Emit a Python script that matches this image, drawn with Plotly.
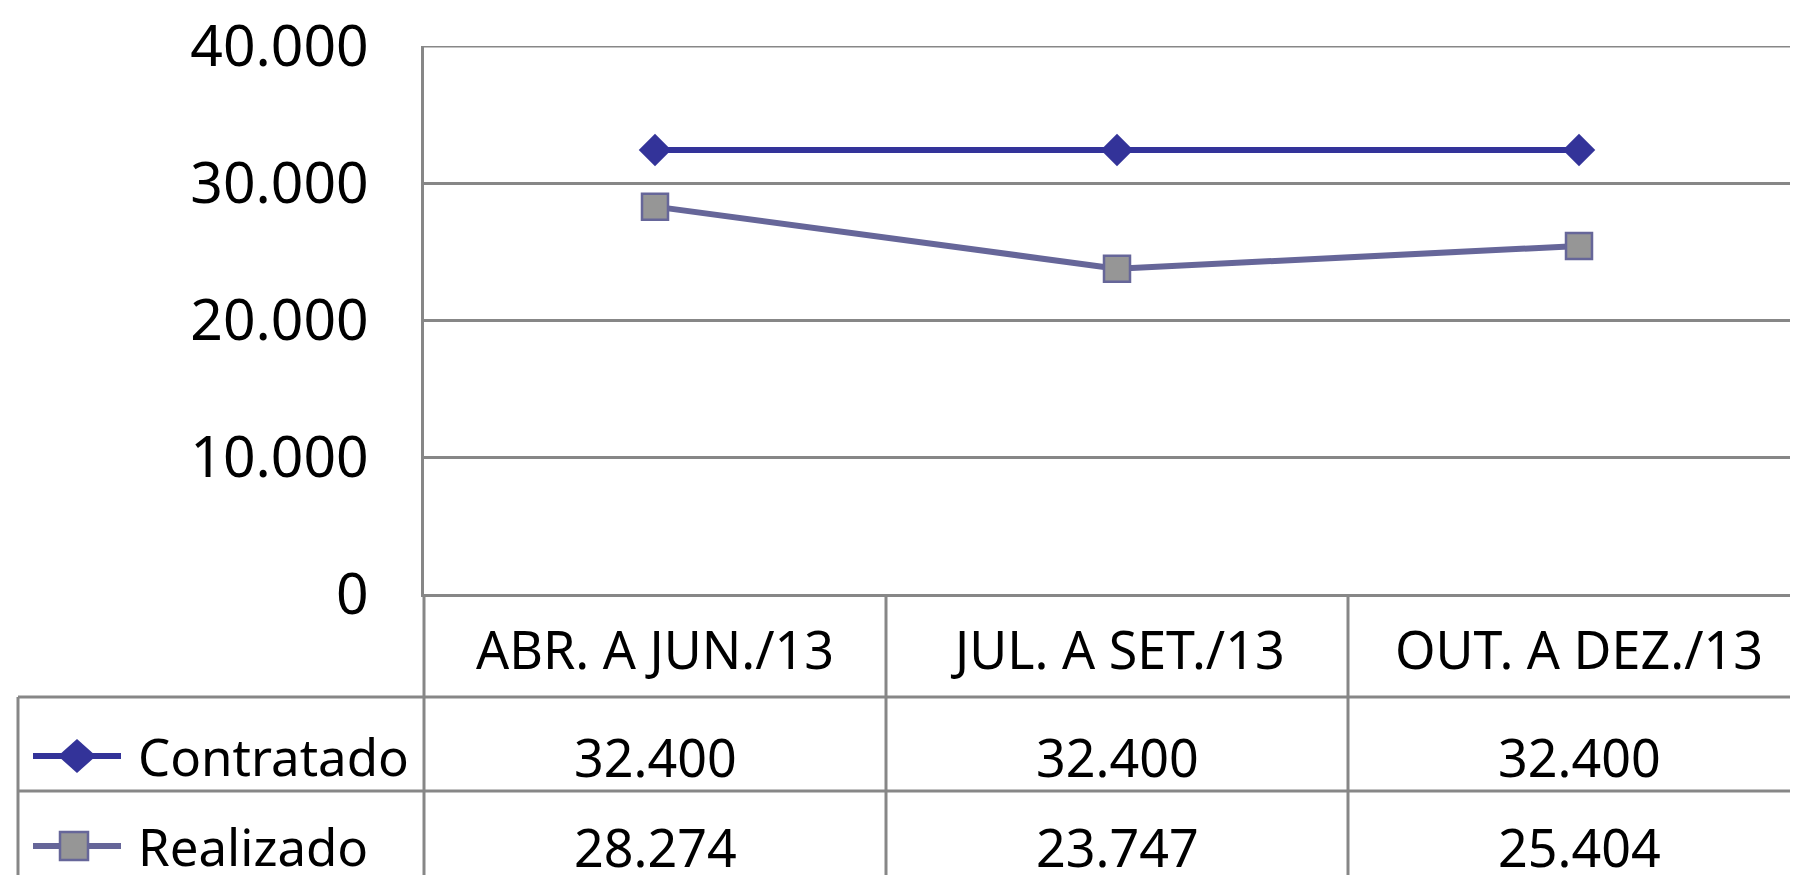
import plotly.graph_objects as go

categories = ["ABR. A JUN./13", "JUL. A SET./13", "OUT. A DEZ./13"]
contratado = [32400, 32400, 32400]
realizado = [28274, 23747, 25404]
series_names = ["Contratado", "Realizado"]
y_ticks = [0, 10000, 20000, 30000, 40000]

W, H = 1798, 875
OFF = 8  # page body margin
FONT = "Noto Sans"
GRID = "#878787"
GW = 3

def px(x):
    return (x - OFF) / W

def py(y):
    return 1 - (y - OFF) / H

x_idx = list(range(len(categories)))

fig = go.Figure()
fig.add_trace(go.Scatter(
    x=x_idx, y=contratado, mode="lines+markers", name=series_names[0],
    line=dict(color="#333399", width=6),
    marker=dict(symbol="diamond", size=25, color="#333399", line=dict(width=0)),
    showlegend=False, cliponaxis=False,
))
fig.add_trace(go.Scatter(
    x=x_idx, y=realizado, mode="lines+markers", name=series_names[1],
    line=dict(color="#666699", width=6),
    marker=dict(symbol="square", size=26, color="#969696", line=dict(color="#666699", width=2.5)),
    showlegend=False, cliponaxis=False,
))

shapes = []
def hline(x0, x1, y):
    shapes.append(dict(type="line", xref="paper", yref="paper", x0=px(x0), x1=px(x1), y0=py(y), y1=py(y),
                       line=dict(color=GRID, width=GW)))
def vline_paper(x, y0, y1):
    shapes.append(dict(type="line", xref="paper", yref="paper", x0=px(x), x1=px(x), y0=py(y0), y1=py(y1),
                       line=dict(color=GRID, width=GW)))

# table grid
vline_paper(424, 594, 890)
vline_paper(18, 697, 890)
hline(18, 1806, 697)
hline(18, 1806, 791)
for i in range(len(categories) - 1):
    shapes.append(dict(type="line", xref="x", yref="paper", x0=i + 0.5, x1=i + 0.5, y0=py(594), y1=py(890),
                       line=dict(color=GRID, width=GW)))
# top gridline
shapes.append(dict(type="line", xref="paper", yref="y", x0=px(424), x1=1, y0=y_ticks[-1], y1=y_ticks[-1],
                   line=dict(color=GRID, width=GW)))

# legend glyphs in table
row_y = [756, 846]
shapes.append(dict(type="line", xref="paper", yref="paper", x0=px(33), x1=px(121), y0=py(row_y[0]), y1=py(row_y[0]),
                   line=dict(color="#333399", width=6)))
cx, cy, r, h = 77, row_y[0], 19, 17
shapes.append(dict(type="path", xref="paper", yref="paper",
                   path=f"M {px(cx-r)},{py(cy)} L {px(cx)},{py(cy-h)} L {px(cx+r)},{py(cy)} L {px(cx)},{py(cy+h)} Z",
                   fillcolor="#333399", line=dict(width=0)))
shapes.append(dict(type="line", xref="paper", yref="paper", x0=px(33), x1=px(121), y0=py(row_y[1]), y1=py(row_y[1]),
                   line=dict(color="#666699", width=6)))
cx, cy, s = 74, row_y[1], 14
shapes.append(dict(type="rect", xref="paper", yref="paper", x0=px(cx-s), x1=px(cx+s), y0=py(cy-s), y1=py(cy+s),
                   fillcolor="#969696", line=dict(color="#666699", width=2.5)))

def fmt(v):
    return f"{v:,}".replace(",", ".")

annotations = []
for i, c in enumerate(categories):
    annotations.append(dict(x=i, y=py(648), xref="x", yref="paper", text=c, showarrow=False,
                            xanchor="center", yanchor="middle", font=dict(size=52, color="black", family=FONT)))
for ri, vals in enumerate([contratado, realizado]):
    annotations.append(dict(x=px(136), y=py(row_y[ri]), xref="paper", yref="paper", text=series_names[ri],
                            showarrow=False, xanchor="left", yanchor="middle",
                            font=dict(size=51, color="black", family=FONT)))
    for i, v in enumerate(vals):
        annotations.append(dict(x=i, y=py(row_y[ri]), xref="x", yref="paper", text=fmt(v), showarrow=False,
                                xanchor="center", yanchor="middle", font=dict(size=52, color="black", family=FONT)))

x_right = -0.5 + 3 * (1806 - 424) / (1810 - 424)

fig.update_layout(
    width=W, height=H,
    margin=dict(l=0, r=0, t=0, b=0, pad=0, autoexpand=False),
    paper_bgcolor="white", plot_bgcolor="white",
    separators=",.",
    font=dict(family=FONT, color="black"),
    xaxis=dict(domain=[px(424), 1], range=[-0.5, x_right], showgrid=False, zeroline=False, automargin=False,
               showticklabels=False, ticks="", showline=True, linecolor=GRID, linewidth=GW, fixedrange=True),
    yaxis=dict(domain=[py(594), py(46)], range=[0, 40000], tickvals=y_ticks, tickformat=",d", automargin=False,
               showgrid=True, gridcolor=GRID, gridwidth=GW, zeroline=False, showline=True,
               linecolor=GRID, linewidth=GW, ticks="", ticklabelstandoff=41, ticklabeloverflow="allow",
               tickfont=dict(size=57, color="black", family=FONT), fixedrange=True),
    shapes=shapes,
    annotations=annotations,
)

fig.write_html("out.html")
